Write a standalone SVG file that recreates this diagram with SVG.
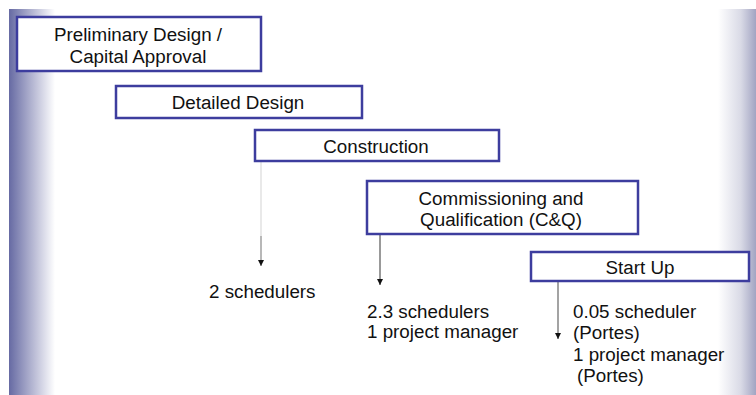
<svg xmlns="http://www.w3.org/2000/svg" width="756" height="395" viewBox="0 0 756 395">
<defs>
<linearGradient id="gl" x1="0" y1="0" x2="1" y2="0">
<stop offset="0" stop-color="#666aa3"/>
<stop offset="0.4" stop-color="#a4a6c8"/>
<stop offset="1" stop-color="#ffffff"/>
</linearGradient>
<linearGradient id="gr" x1="0" y1="0" x2="1" y2="0">
<stop offset="0" stop-color="#ffffff"/>
<stop offset="0.6" stop-color="#d9dae6"/>
<stop offset="1" stop-color="#a2a4c2"/>
</linearGradient>
<marker id="ah" viewBox="0 0 6 6" refX="6" refY="3" markerWidth="6" markerHeight="6" markerUnits="userSpaceOnUse" orient="auto">
<path d="M0,0 L6,3 L0,6 Z" fill="#111"/>
</marker>
<style>
.box{fill:#ffffff;stroke:#3d3d9e;stroke-width:2.5}
.t{font-family:"Liberation Sans",Arial,sans-serif;font-size:18.8px;fill:#111}
.c{text-anchor:middle}
</style>
</defs>
<rect x="0" y="0" width="756" height="395" fill="#ffffff"/>
<rect x="9" y="9" width="46" height="386" fill="url(#gl)"/>
<rect x="718" y="9" width="38" height="386" fill="url(#gr)"/>

<g id="connectors">
<line x1="261" y1="162" x2="261" y2="236" stroke="#e2e2e2" stroke-width="1.5"/>
<line x1="261" y1="236" x2="261" y2="266" stroke="#a0a0a0" stroke-width="1.5" marker-end="url(#ah)"/>
<line x1="380" y1="235" x2="380" y2="285" stroke="#555" stroke-width="1.2" marker-end="url(#ah)"/>
<line x1="558" y1="281" x2="558" y2="339" stroke="#666" stroke-width="1.2" marker-end="url(#ah)"/>
</g>

<g id="preliminary">
<rect class="box" x="17" y="17" width="244" height="54"/>
<text class="t c" x="138" y="41">Preliminary Design /</text>
<text class="t c" x="138" y="63">Capital Approval</text>
</g>
<g id="detailed">
<rect class="box" x="116" y="86" width="246" height="32"/>
<text class="t c" x="238" y="109">Detailed Design</text>
</g>
<g id="construction">
<rect class="box" x="255" y="130" width="244" height="31"/>
<text class="t c" x="376" y="153">Construction</text>
</g>
<g id="commissioning">
<rect class="box" x="367" y="181" width="271" height="53"/>
<text class="t c" x="501" y="205">Commissioning and</text>
<text class="t c" x="501" y="226">Qualification (C&amp;Q)</text>
</g>
<g id="startup">
<rect class="box" x="531" y="252" width="218" height="29"/>
<text class="t c" x="640" y="274">Start Up</text>
</g>

<g id="labels">
<text class="t" x="209" y="298">2 schedulers</text>
<text class="t" x="367" y="318">2.3 schedulers</text>
<text class="t" x="367" y="338">1 project manager</text>
<text class="t" x="573" y="318">0.05 scheduler</text>
<text class="t" x="573" y="339">(Portes)</text>
<text class="t" x="573" y="361">1 project manager</text>
<text class="t" x="577" y="382">(Portes)</text>
</g>
</svg>
